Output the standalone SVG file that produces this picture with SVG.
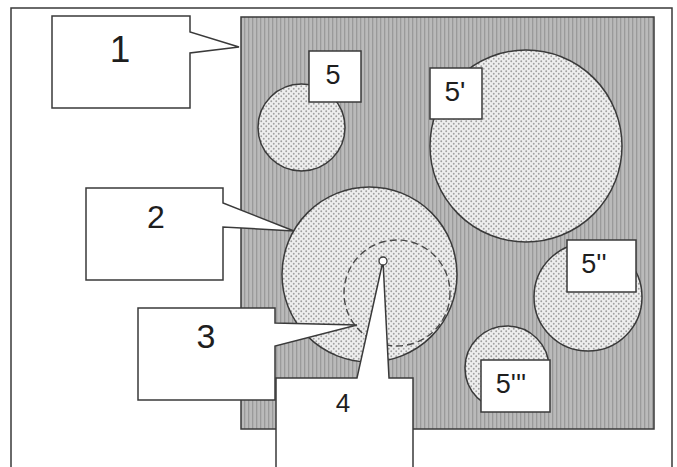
<svg xmlns="http://www.w3.org/2000/svg" width="677" height="467" viewBox="0 0 677 467">
<defs>
<pattern id="vlines" width="4" height="4" patternUnits="userSpaceOnUse"><rect width="4" height="4" fill="#bababa"/><rect width="1.3" height="4" fill="#9a9a9a"/></pattern>
<pattern id="dots" width="5" height="5" patternUnits="userSpaceOnUse"><rect width="5" height="5" fill="#eeeeee"/><circle cx="1.25" cy="1.25" r="0.95" fill="#a0a0a0"/><circle cx="3.75" cy="3.75" r="0.95" fill="#a0a0a0"/></pattern>
</defs>
<style>
.ln{stroke:#3a3a3a;stroke-width:1.5;}
.box{fill:#fff;stroke:#3a3a3a;stroke-width:1.5;stroke-linejoin:miter;}
.disk{fill:url(#dots);stroke:#3a3a3a;stroke-width:1.5;}
.lbl{font-family:"Liberation Sans",Arial,sans-serif;fill:#1e1e1e;text-anchor:middle;}
</style>
<rect width="677" height="467" fill="#fff"/>
<g id="frame"><path class="ln" fill="none" d="M11,470 V8 H672 V470"/></g>
<g id="field"><rect x="241" y="17" width="413" height="412" fill="url(#vlines)" class="ln"/></g>
<g id="disk5"><circle class="disk" cx="301.5" cy="127.5" r="43.5"/></g>
<g id="disk5p"><circle class="disk" cx="526" cy="146" r="96"/></g>
<g id="disk5pp"><circle class="disk" cx="588" cy="297" r="54"/></g>
<g id="disk5ppp"><circle class="disk" cx="507" cy="368" r="42"/></g>
<g id="disk2"><circle class="disk" cx="369.5" cy="274.5" r="87.5"/></g>
<g id="dashed3"><circle cx="397" cy="293" r="53" fill="none" stroke="#4a4a4a" stroke-width="1.4" stroke-dasharray="7 4"/></g>
<g id="callout1"><path class="box" d="M52,16 H190 V32 L239,47 L190,53 V108 H52 Z"/><text class="lbl" x="120" y="62" font-size="37">1</text></g>
<g id="callout2"><path class="box" d="M86,188 H223 V203 L294,231 L223,227 V280 H86 Z"/><text class="lbl" x="156" y="228" font-size="32">2</text></g>
<g id="callout3"><path class="box" d="M138,308 H275 V323 L357,325 L275,346 V400 H138 Z"/><text class="lbl" x="206" y="348" font-size="34">3</text></g>
<g id="callout4"><path class="box" d="M276,472 V378 H357 L383,261 L389,378 H413 V472"/><text class="lbl" x="343" y="412" font-size="26">4</text></g>
<g id="pivot"><circle cx="383" cy="261" r="4" fill="#fff" stroke="#3a3a3a" stroke-width="1.3"/></g>
<g id="label5"><rect class="box" x="309" y="51" width="52" height="51"/><text class="lbl" x="333" y="84" font-size="27">5</text></g>
<g id="label5p"><rect class="box" x="430" y="68" width="52" height="51"/><text class="lbl" x="455" y="101" font-size="28">5'</text></g>
<g id="label5pp"><rect class="box" x="567" y="240" width="69" height="52"/><text class="lbl" x="594" y="273" font-size="27">5''</text></g>
<g id="label5ppp"><rect class="box" x="481" y="360" width="69" height="52"/><text class="lbl" x="511" y="393" font-size="27">5'''</text></g>
</svg>
